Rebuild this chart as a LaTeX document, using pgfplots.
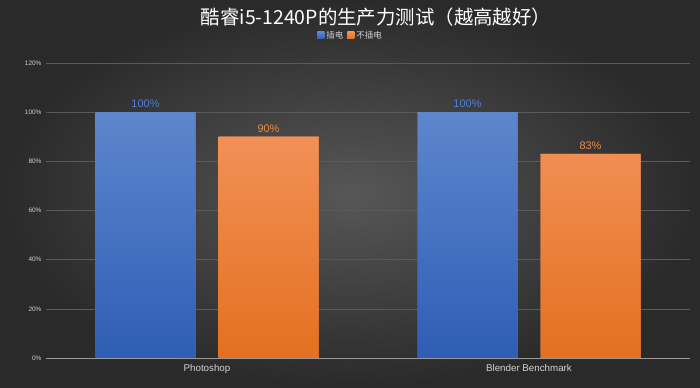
\documentclass[border=0pt]{standalone}
\usepackage{pgfplots}
\pgfplotsset{compat=1.18}
\usepackage{fontspec}
\setmainfont{Liberation Sans}
\newfontfamily\cjk{Noto Sans CJK SC}
\definecolor{bgin}{HTML}{575757}
\definecolor{bgout}{HTML}{2A2A2A}
\definecolor{bluetop}{HTML}{5E86CD}
\definecolor{bluebot}{HTML}{2E5DB5}
\definecolor{orgtop}{HTML}{F29057}
\definecolor{orgbot}{HTML}{E4701F}
\definecolor{bluelab}{HTML}{4F7FD2}
\definecolor{orglab}{HTML}{EE8A45}
\definecolor{ticklab}{HTML}{D2D2D2}
\definecolor{gridc}{HTML}{5A5A5A}
\begin{document}
\begin{tikzpicture}
\path[use as bounding box] (0,0) rectangle (700bp,388bp);
\shade[inner color=bgin, outer color=bgout] (0,0) rectangle (700bp,388bp);
\node[text=white, font=\cjk\fontsize{19.5}{21}\selectfont] at (376bp,371bp) {酷睿i5-1240P的生产力测试（越高越好）};
\begin{axis}[
  at={(46bp,30bp)}, anchor=south west,
  scale only axis, width=644bp, height=295bp,
  xmin=-0.5, xmax=1.5, ymin=0, ymax=120,
  ybar=23bp, bar width=100bp,
  xtick={0,1}, xticklabels={Photoshop,Blender Benchmark},
  ytick={0,20,...,120},
  yticklabel={\pgfmathprintnumber{\tick}\%},
  /pgf/number format/assume math mode=true,
  major tick length=0,
  ymajorgrids, grid style={gridc, line width=0.6pt},
  axis lines=left, axis line style={-},
  y axis line style={draw=none},
  x axis line style={draw=gray!80, line width=0.8pt},
  yticklabel style={font=\fontsize{6.5}{7}\selectfont, text=ticklab, xshift=-1bp},
  xticklabel style={font=\fontsize{9.8}{11}\selectfont, text=ticklab, yshift=-3bp},
  nodes near coords={\pgfmathprintnumber{\pgfplotspointmeta}\%},
  every node near coord/.append style={font=\fontsize{11}{12}\selectfont, yshift=1bp},
  legend style={at={(0.473,1.092)}, anchor=center, draw=none, fill=none,
    font=\cjk\fontsize{8.5}{9}\selectfont, text=ticklab, legend columns=2,
    /tikz/every even column/.append style={column sep=2bp}},
  legend image code/.code={\fill[#1] (0,-0.3em) rectangle (0.7em,0.4em);},
]
\addplot[draw=none, top color=bluetop, bottom color=bluebot, fill=bluetop,
  every node near coord/.append style={text=bluelab}] coordinates {(0,100) (1,100)};
\addplot[draw=none, top color=orgtop, bottom color=orgbot, fill=orgtop,
  every node near coord/.append style={text=orglab}] coordinates {(0,90) (1,83)};
\legend{插电,不插电}
\end{axis}
\end{tikzpicture}
\end{document}
